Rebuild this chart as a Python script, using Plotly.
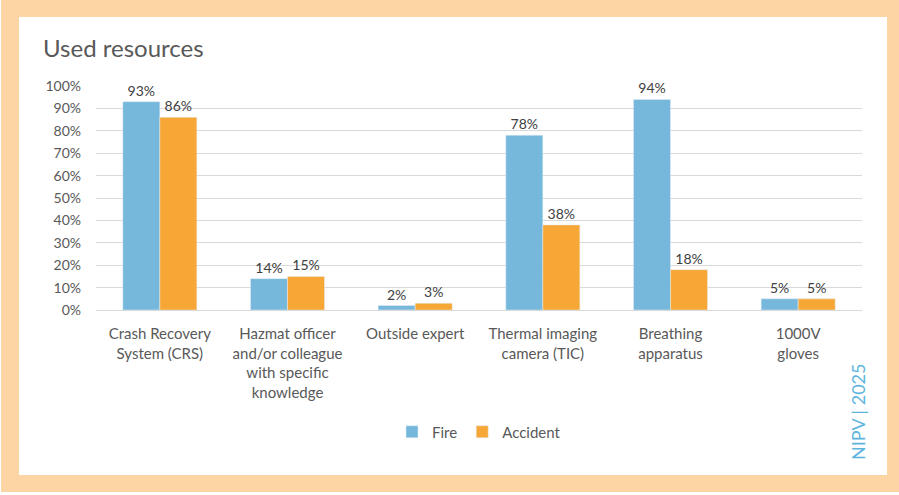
import plotly.graph_objects as go

categories = [
    "Crash Recovery<br>System (CRS)",
    "Hazmat officer<br>and/or colleague<br>with specific<br>knowledge",
    "Outside expert",
    "Thermal imaging<br>camera (TIC)",
    "Breathing<br>apparatus",
    "1000V<br>gloves",
]
fire = [93, 14, 2, 78, 94, 5]
accident = [86, 15, 3, 38, 18, 5]
tick_vals = [0, 10, 20, 30, 40, 50, 60, 70, 80, 90, 100]
tick_text = [f"{v}%" for v in tick_vals]

FIRE_C = "#75B8DB"
ACC_C = "#F7A735"
TXT = "#595959"
FONT = "Lato, Open Sans, sans-serif"

W, H = 899, 495
L, R, T, B = 96, 37, 86, 185
pw, ph = W - L - R, H - T - B

def px(x):
    return (x - L) / pw

def py(y):
    return (H - B - y) / ph

fig = go.Figure()
fig.add_trace(go.Bar(
    name="Fire", x=categories, y=fire, marker_color=FIRE_C,
    text=[f"{v}%" for v in fire], textposition="outside",
    textfont=dict(size=14, color="#404040", family=FONT), cliponaxis=False,
))
fig.add_trace(go.Bar(
    name="Accident", x=categories, y=accident, marker_color=ACC_C,
    text=[f"{v}%" for v in accident], textposition="outside",
    textfont=dict(size=14, color="#404040", family=FONT), cliponaxis=False,
))

fig.update_layout(
    width=W, height=H,
    margin=dict(l=L, r=R, t=T, b=B),
    paper_bgcolor="white", plot_bgcolor="rgba(0,0,0,0)",
    barmode="group", bargap=0.42, bargroupgap=0,
    font=dict(family=FONT, color=TXT, size=15),
    showlegend=True,
    legend=dict(orientation="h", x=0.5, xanchor="center", y=py(432), yanchor="middle",
                font=dict(size=15, color=TXT, family=FONT), bgcolor="rgba(0,0,0,0)",
                itemwidth=30),
    xaxis=dict(showgrid=False, showline=True, linecolor="#D9D9D9", linewidth=1,
               ticks="", ticklabelstandoff=10,
               tickfont=dict(size=15, color=TXT, family=FONT)),
    yaxis=dict(range=[0, 100], tickmode="array", tickvals=tick_vals, ticktext=tick_text,
               showgrid=True, gridcolor="#D9D9D9", gridwidth=1, zeroline=False,
               showline=False, ticks="", ticklabelstandoff=14,
               tickfont=dict(size=14, color=TXT, family=FONT)),
    shapes=[
        dict(type="rect", xref="paper", yref="paper", layer="below",
             x0=px(1), x1=px(899), y0=py(492), y1=py(0),
             fillcolor="#FDD5A4", line=dict(width=0)),
        dict(type="rect", xref="paper", yref="paper", layer="below",
             x0=px(19), x1=px(887), y0=py(475), y1=py(17),
             fillcolor="white", line=dict(width=0)),
    ],
    annotations=[
        dict(text="Used resources", xref="paper", yref="paper", x=px(41), y=py(47),
             xanchor="left", yanchor="middle", showarrow=False,
             font=dict(size=24, color=TXT, family=FONT)),
        dict(text="NIPV | 2025", xref="paper", yref="paper", x=px(858), y=py(412),
             xanchor="center", yanchor="middle", showarrow=False, textangle=-90,
             font=dict(size=18, color="#5DB5DD", family=FONT)),
    ],
)

fig.write_html("out.html", config={"displayModeBar": False},
               post_script="document.body.style.margin='0';")
